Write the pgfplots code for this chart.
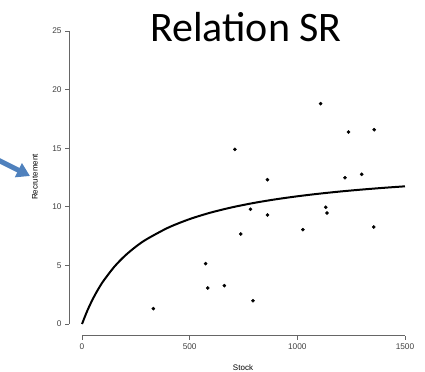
\documentclass[border=0pt]{standalone}
\usepackage{pgfplots}
\pgfplotsset{compat=1.18}
\usepackage{fontspec}
\setmainfont{Liberation Sans}
\newfontfamily\titlefont{Carlito}
\usetikzlibrary{arrows.meta}
\definecolor{arrowblue}{HTML}{4F81BD}
\begin{document}
\begin{tikzpicture}[x=1bp,y=1bp]
\useasboundingbox (0,0) rectangle (425,372);
\begin{axis}[at={(69.1bp,36.3bp)}, anchor=south west, scale only axis,
  width=348.8bp, height=316.4bp,
  xmin=-60, xmax=1560, ymin=-1, ymax=26,
  axis lines*=left, axis line style={draw=none},
  xtick={0,500,1000,1500}, ytick={0,5,10,15,20,25},
  tick align=outside, major tick length=4bp,
  tick style={gray!80!black, line width=0.6bp},
  tick label style={font=\fontsize{8.3bp}{10bp}\selectfont, text=black!75},
  /pgf/number format/assume math mode=true,
  /pgf/number format/1000 sep={},
  clip=false]
\addplot[only marks, mark=*, mark size=1.6bp, black] coordinates {
(331,1.31) (574,5.15) (584,3.07) (661,3.27) (794,1.99) (737,7.68)
(782,9.79) (861,9.30) (1026,8.05) (1132,9.96) (1138,9.47) (1355,8.28)
(710,14.9) (861,12.31) (1108,18.8) (1238,16.38) (1357,16.58) (1221,12.48) (1299,12.77)
};
\addplot[black, line width=2bp, smooth] coordinates {
(0,0) (25,1.150) (50,2.125) (75,2.962) (100,3.687) (150,4.884) (200,5.830)
(250,6.597) (300,7.231) (400,8.218) (500,8.952) (600,9.518) (700,9.968)
(800,10.335) (900,10.640) (1000,10.896) (1100,11.116) (1200,11.306)
(1300,11.471) (1400,11.617) (1500,11.747)
};
\draw[gray!80!black, line width=0.6bp] (axis cs:0,-1) -- (axis cs:1500,-1);
\draw[gray!80!black, line width=0.6bp] (axis cs:-60,0) -- (axis cs:-60,25);
\end{axis}
\node[rotate=90, inner sep=0, font=\fontsize{8bp}{9bp}\selectfont] at (35,195) {Recrutement};
\node[anchor=north, inner sep=0, font=\fontsize{8bp}{9bp}\selectfont] at (243,7.5) {Stock};
\node[anchor=base, inner sep=0, font=\titlefont\fontsize{42bp}{50bp}\selectfont] at (246,330.3) {Relation SR};
\draw[arrowblue, line width=5bp, -{Triangle[length=13bp, width=15bp]}] (-3,212.5) -- (30,196);
\end{tikzpicture}
\end{document}
